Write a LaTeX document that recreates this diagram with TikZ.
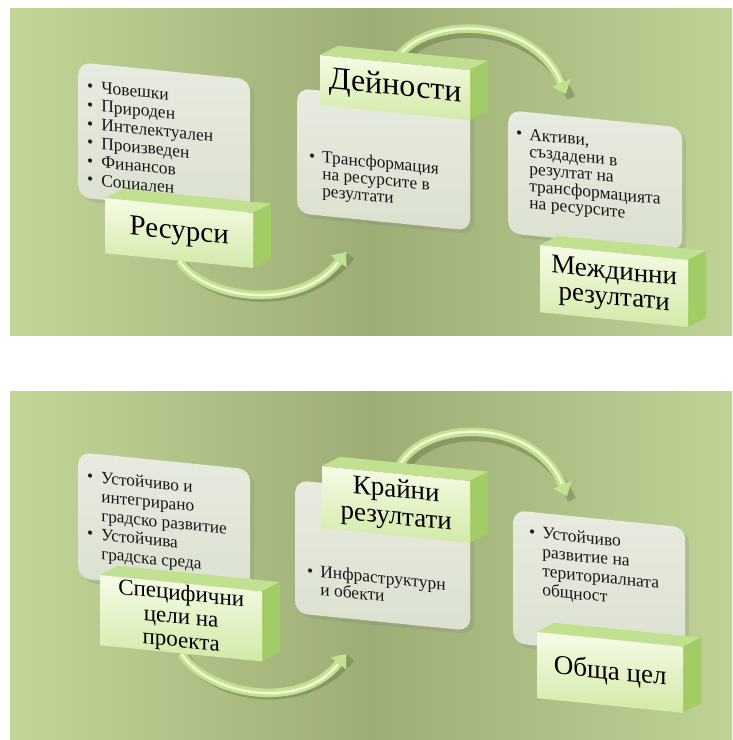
\documentclass[tikz,border=0pt]{standalone}
\usepackage{fontspec}
\setmainfont{Liberation Serif}
\usetikzlibrary{arrows.meta,shadows,calc}

\definecolor{bgL}{HTML}{C3D698}
\definecolor{bgM}{HTML}{9DAD76}
\definecolor{bgR}{HTML}{BFD396}
\definecolor{tbtop}{HTML}{E7EBE0}
\definecolor{tbbot}{HTML}{DBE1D0}
\definecolor{gfront1}{HTML}{F6FBE6}
\definecolor{gfront2}{HTML}{D2EAA8}
\definecolor{gtop}{HTML}{C2E190}
\definecolor{gside}{HTML}{A3CC66}
\definecolor{arrbody}{HTML}{C3E28E}
\definecolor{arrhl}{HTML}{F0F9DB}
\definecolor{arrshadow}{HTML}{56633A}

\pgfdeclarelayer{background}
\pgfdeclarelayer{ribbons}
\pgfsetlayers{background,ribbons,main}

\tikzset{
  textbox/.style={rounded corners=12pt, top color=tbtop, bottom color=tbbot, draw=none,
    inner sep=0pt, anchor=north west,
    drop shadow={opacity=0.22, shadow xshift=4pt, shadow yshift=-4pt}},
  greenface/.style={top color=gfront1, bottom color=gfront2, inner sep=0pt,
    anchor=north west, align=center, text=black},
  topface/.style={fill=gtop},
  sideface/.style={fill=gside},
  ribbonshadow/.style={draw=arrshadow, opacity=0.35, line width=8.5pt,
    transform canvas={xshift=5pt, yshift=-4pt}},
  ribbon/.style={draw=arrbody, line width=8.5pt,
    -{Triangle[length=12pt, width=19pt, fill=arrbody]}},
  ribbonhl/.style={draw=arrhl, line width=2.5pt, shorten >=13pt},
  bullets/.style={anchor=base west, inner sep=0pt, align=left, text=black!90},
  slant/.style={yslant=-0.1, transform shape},
}

\begin{document}
\begin{tikzpicture}[x=1pt, y=-1pt]
\useasboundingbox (0,0) rectangle (732,740);

\begin{pgfonlayer}{background}
  \shade[left color=bgL, right color=bgR, middle color=bgM] (10,8) rectangle (732,335);
  \shade[left color=bgL, right color=bgR, middle color=bgM] (10,391) rectangle (732,740);
\end{pgfonlayer}

% ================= TOP PANEL =================
% text box 1
\begin{scope}[shift={(78,62)}, slant]
  \node[textbox, minimum width=172pt, minimum height=135pt] (tb1) at (0,0) {};
  \node[bullets] (tx1) at (9,29) {\fontsize{17.5}{18.6}\selectfont
    \begin{tabular}[t]{@{}l@{\hspace{8pt}}l@{}}
    \textbullet & Човешки\\
    \textbullet & Природен\\
    \textbullet & Интелектуален\\
    \textbullet & Произведен\\
    \textbullet & Финансов\\
    \textbullet & Социален
    \end{tabular}};
\end{scope}
% green box 1
\begin{scope}[shift={(105,198)}, slant]
  \fill[topface] (0,0) -- ++(18,-11) -- ++(148,0) -- (148,0) -- cycle;
  \fill[sideface] (148,0) -- ++(18,-11) -- ++(0,55) -- (148,55) -- cycle;
  \node[greenface, minimum width=148pt, minimum height=55pt,
    font=\fontsize{29}{30}\selectfont] (gb1) at (0,0) {Ресурси};
\end{scope}

% text box 2
\begin{scope}[shift={(297,88)}, slant]
  \node[textbox, minimum width=173pt, minimum height=125pt] (tb2) at (0,0) {};
  \node[bullets] (tx2) at (12,72) {\fontsize{17.3}{17}\selectfont
    \begin{tabular}[t]{@{}l@{\hspace{7pt}}l@{}}
    \textbullet & Трансформация\\
     & на ресурсите в\\
     & резултати
    \end{tabular}};
\end{scope}
% green box 2
\begin{scope}[shift={(320,55)}, slant]
  \fill[topface] (0,0) -- ++(18,-11) -- ++(150,0) -- (150,0) -- cycle;
  \fill[sideface] (150,0) -- ++(18,-11) -- ++(0,50) -- (150,50) -- cycle;
  \node[greenface, minimum width=150pt, minimum height=50pt,
    font=\fontsize{32}{32}\selectfont] (gb2) at (0,0) {Дейности};
\end{scope}

% text box 3
\begin{scope}[shift={(508,110)}, slant]
  \node[textbox, minimum width=174pt, minimum height=123pt] (tb3) at (0,0) {};
  \node[bullets] (tx3) at (8,28) {\fontsize{17.5}{17}\selectfont
    \begin{tabular}[t]{@{}l@{\hspace{7pt}}l@{}}
    \textbullet & Активи,\\
     & създадени в\\
     & резултат на\\
     & трансформацията\\
     & на ресурсите
    \end{tabular}};
\end{scope}
% green box 3
\begin{scope}[shift={(540,245)}, slant]
  \fill[topface] (0,0) -- ++(18,-11) -- ++(148,0) -- (148,0) -- cycle;
  \fill[sideface] (148,0) -- ++(18,-11) -- ++(0,67) -- (148,67) -- cycle;
  \node[greenface, minimum width=148pt, minimum height=67pt,
    font=\fontsize{27}{26}\selectfont] (gb3) at (0,0) {Междинни\\резултати};
\end{scope}

% ================= BOTTOM PANEL =================
% text box 4
\begin{scope}[shift={(78,452)}, slant]
  \node[textbox, minimum width=172pt, minimum height=126pt] (tb4) at (0,0) {};
  \node[bullets] (tx4) at (9,29) {\fontsize{17.3}{19}\selectfont
    \begin{tabular}[t]{@{}l@{\hspace{8pt}}l@{}}
    \textbullet & Устойчиво и\\
     & интегрирано\\
     & градско развитие\\
    \textbullet & Устойчива\\
     & градска среда
    \end{tabular}};
\end{scope}
% green box 4
\begin{scope}[shift={(100,575)}, slant]
  \fill[topface] (0,0) -- ++(18,-11) -- ++(162,0) -- (162,0) -- cycle;
  \fill[sideface] (162,0) -- ++(18,-11) -- ++(0,70) -- (162,70) -- cycle;
  \node[greenface, minimum width=162pt, minimum height=70pt,
    font=\fontsize{23}{23.5}\selectfont] (gb4) at (0,0) {Специфични\\цели на\\проекта};
\end{scope}

% text box 5
\begin{scope}[shift={(295,480)}, slant]
  \node[textbox, minimum width=175pt, minimum height=133pt] (tb5) at (0,0) {};
  \node[bullets] (tx5) at (12,95) {\fontsize{17.5}{17}\selectfont
    \begin{tabular}[t]{@{}l@{\hspace{7pt}}l@{}}
    \textbullet & Инфраструктурн\\
     & и обекти
    \end{tabular}};
\end{scope}
% green box 5
\begin{scope}[shift={(322,466)}, slant]
  \fill[topface] (0,0) -- ++(18,-11) -- ++(148,0) -- (148,0) -- cycle;
  \fill[sideface] (148,0) -- ++(18,-11) -- ++(0,62) -- (148,62) -- cycle;
  \node[greenface, minimum width=148pt, minimum height=62pt,
    font=\fontsize{27}{27}\selectfont] (gb5) at (0,0) {Крайни\\резултати};
\end{scope}

% text box 6
\begin{scope}[shift={(513,510)}, slant]
  \node[textbox, minimum width=172pt, minimum height=133pt] (tb6) at (0,0) {};
  \node[bullets] (tx6) at (16,26) {\fontsize{17.5}{19}\selectfont
    \begin{tabular}[t]{@{}l@{\hspace{7pt}}l@{}}
    \textbullet & Устойчиво\\
     & развитие на\\
     & териториалната\\
     & общност
    \end{tabular}};
\end{scope}
% green box 6
\begin{scope}[shift={(537,632)}, slant]
  \fill[topface] (0,0) -- ++(18,-11) -- ++(146,0) -- (146,0) -- cycle;
  \fill[sideface] (146,0) -- ++(18,-11) -- ++(0,66) -- (146,66) -- cycle;
  \node[greenface, minimum width=146pt, minimum height=66pt,
    font=\fontsize{27}{27}\selectfont] (gb6) at (0,0) {Обща цел};
\end{scope}

% ================= RIBBON ARROWS =================
\coordinate (a1e) at (346,252);
\coordinate (a2e) at (566,94);
\coordinate (a3e) at (346,654);
\coordinate (a4e) at (567,496);

\begin{pgfonlayer}{ribbons}
  % arrow 1
  \draw[ribbonshadow] (gb1.south) .. controls (205,300) and (300,312) .. (a1e);
  \draw[ribbon] (gb1.south) .. controls (205,300) and (300,312) .. (a1e);
  \draw[ribbonhl] (gb1.south) .. controls (205,300) and (300,312) .. (a1e);
  % arrow 2
  \draw[ribbonshadow] (gb2.north) .. controls (415,18) and (530,10) .. (a2e);
  \draw[ribbon] (gb2.north) .. controls (415,18) and (530,10) .. (a2e);
  \draw[ribbonhl] (gb2.north) .. controls (415,18) and (530,10) .. (a2e);
  % arrow 3
  \draw[ribbonshadow] (gb4.south) .. controls (208,695) and (300,712) .. (a3e);
  \draw[ribbon] (gb4.south) .. controls (208,695) and (300,712) .. (a3e);
  \draw[ribbonhl] (gb4.south) .. controls (208,695) and (300,712) .. (a3e);
  % arrow 4
  \draw[ribbonshadow] (gb5.north) .. controls (412,420) and (532,412) .. (a4e);
  \draw[ribbon] (gb5.north) .. controls (412,420) and (532,412) .. (a4e);
  \draw[ribbonhl] (gb5.north) .. controls (412,420) and (532,412) .. (a4e);
\end{pgfonlayer}

\end{tikzpicture}
\end{document}
